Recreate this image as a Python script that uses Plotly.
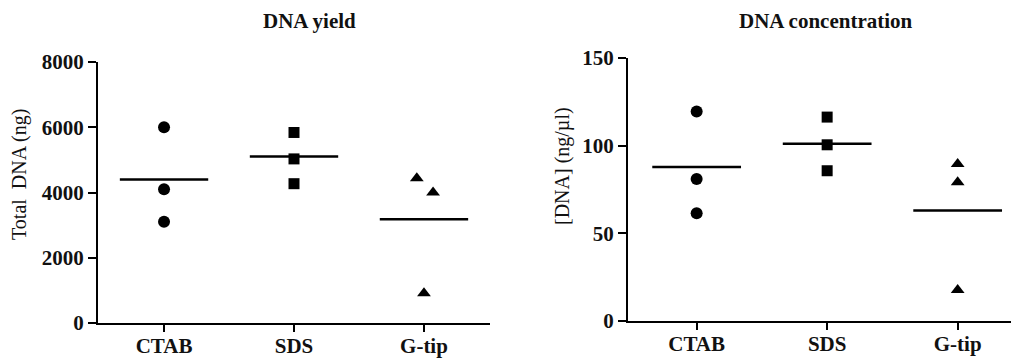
import plotly.graph_objects as go

categories = ["CTAB", "SDS", "G-tip"]

# DNA yield (ng)
yield_ctab = [6000, 4100, 3100]
yield_sds = [5840, 5030, 4270]
yield_gtip = [4440, 4000, 910]
yield_means = [4400, 5100, 3180]
yield_gtip_jitter = [-0.055, 0.07, 0.0]

# DNA concentration (ng/µl)
conc_ctab = [119.5, 81, 61.5]
conc_sds = [116.3, 100.5, 85.7]
conc_gtip = [89.5, 79.2, 17.7]
conc_means = [87.8, 101.1, 63.0]

yield_ticks = [0, 2000, 4000, 6000, 8000]
conc_ticks = [0, 50, 100, 150]

OFF = 8  # page body margin in the browser
W, H = 1019 - OFF, 358 - OFF
SERIF = "Liberation Serif, Times New Roman, serif"
symbols = ["circle", "square", "triangle-up"]
sizes = [12, 11, 12]
half = 0.34

fig = go.Figure()

def add_panel(groups, means, xa, ya, jitters):
    for i, vals in enumerate(groups):
        jit = jitters[i] if jitters[i] is not None else [0] * len(vals)
        fig.add_trace(go.Scatter(
            x=[i + j for j in jit], y=vals, mode="markers",
            marker=dict(symbol=symbols[i], size=sizes[i], color="black", line=dict(width=0)),
            xaxis=xa, yaxis=ya, showlegend=False, hoverinfo="y"))
        fig.add_trace(go.Scatter(
            x=[i - half, i + half], y=[means[i], means[i]], mode="lines",
            line=dict(color="black", width=2.5),
            xaxis=xa, yaxis=ya, showlegend=False, hoverinfo="skip"))

add_panel([yield_ctab, yield_sds, yield_gtip], yield_means, "x", "y",
          [None, None, yield_gtip_jitter])
add_panel([conc_ctab, conc_sds, conc_gtip], conc_means, "x2", "y2",
          [None, None, None])

def px_x(p):
    return (p - OFF) / W

def px_y(p):
    return 1 - (p - OFF) / H

axis_common = dict(showline=True, linecolor="black", linewidth=2, ticks="outside",
                   tickcolor="black", tickwidth=2, showgrid=False, zeroline=False,
                   automargin=False,
                   tickfont=dict(family=SERIF, size=21, color="#111", weight="bold"))

fig.update_layout(
    template="none",
    width=W, height=H, margin=dict(l=0, r=0, t=0, b=0, pad=0, autoexpand=False),
    paper_bgcolor="white", plot_bgcolor="white",
    xaxis=dict(domain=[px_x(98), px_x(490)], range=[-0.508, 2.508],
               tickvals=[0, 1, 2], ticktext=categories, ticklen=7, anchor="y",
               ticklabelstandoff=-4, **axis_common),
    yaxis=dict(domain=[px_y(323), px_y(62)], range=[0, 8000],
               tickvals=yield_ticks, ticklen=8, anchor="x", **axis_common),
    xaxis2=dict(domain=[px_x(628), 1.0], range=[-0.526, 2.47],
                tickvals=[0, 1, 2], ticktext=categories, ticklen=7, anchor="y2",
                ticklabelstandoff=-4, **axis_common),
    yaxis2=dict(domain=[px_y(321), px_y(58)], range=[0, 150],
                tickvals=conc_ticks, ticklen=8, anchor="x2", **axis_common),
    annotations=[
        dict(text="<b>DNA yield</b>", x=px_x(309), y=px_y(21), xref="paper", yref="paper",
             showarrow=False, xanchor="center", yanchor="middle",
             font=dict(family=SERIF, size=21, color="#111")),
        dict(text="<b>DNA concentration</b>", x=px_x(826), y=px_y(21), xref="paper", yref="paper",
             showarrow=False, xanchor="center", yanchor="middle",
             font=dict(family=SERIF, size=21, color="#111")),
        dict(text="Total  DNA (ng)", x=px_x(20), y=px_y(175), xref="paper", yref="paper",
             showarrow=False, xanchor="center", yanchor="middle", textangle=-90,
             font=dict(family=SERIF, size=20, color="#111")),
        dict(text="[DNA] (ng/µl)", x=px_x(562), y=px_y(166), xref="paper", yref="paper",
             showarrow=False, xanchor="center", yanchor="middle", textangle=-90,
             font=dict(family=SERIF, size=20, color="#111")),
    ],
)

fig.write_html("out.html")
